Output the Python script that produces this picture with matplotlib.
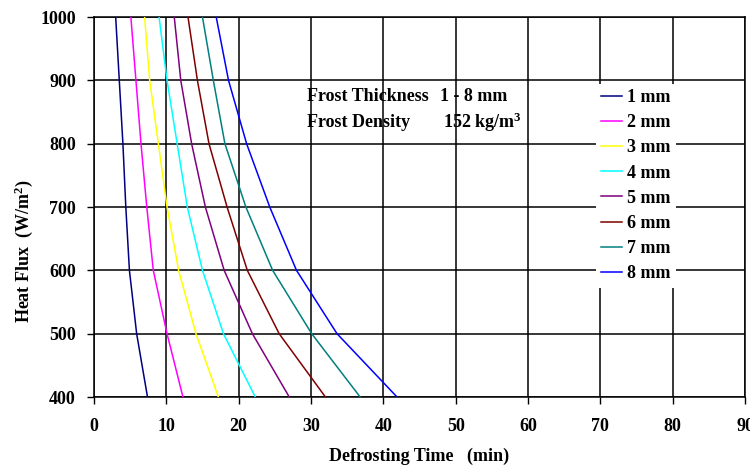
import numpy as np
import matplotlib.pyplot as plt

# heat flux levels (W/m2) and defrosting times (min)
flux = [1000, 900, 800, 700, 600, 500, 400]
t_1mm = [3.0, 3.5, 4.0, 4.4, 4.9, 5.9, 7.4]
t_2mm = [5.1, 5.8, 6.5, 7.3, 8.2, 10.1, 12.3]
t_3mm = [7.0, 7.7, 8.9, 10.1, 11.7, 14.1, 17.2]
t_4mm = [9.0, 10.1, 11.5, 12.9, 15.0, 17.9, 22.3]
t_5mm = [11.1, 12.0, 13.5, 15.4, 18.0, 21.9, 27.0]
t_6mm = [13.0, 14.3, 15.9, 18.4, 21.2, 25.6, 32.0]
t_7mm = [15.0, 16.5, 18.1, 21.0, 24.7, 30.1, 36.8]
t_8mm = [16.9, 18.6, 21.1, 24.3, 28.0, 33.6, 41.9]

series = [t_1mm, t_2mm, t_3mm, t_4mm, t_5mm, t_6mm, t_7mm, t_8mm]
labels = ['1 mm', '2 mm', '3 mm', '4 mm', '5 mm', '6 mm', '7 mm', '8 mm']
colors = ['#000080', '#FF00FF', '#FFFF00', '#00FFFF',
          '#800080', '#800000', '#008080', '#0000FF']

plt.rcParams['font.family'] = 'Liberation Serif'
plt.rcParams['font.weight'] = 'bold'
plt.rcParams['mathtext.default'] = 'regular'

fig = plt.figure(figsize=(7.5, 4.66), dpi=100)
ax = fig.add_axes([0.1253, 0.148, 0.868, 0.8155])

for t, lab, c in zip(series, labels, colors):
    ax.plot(t, flux, color=c, lw=1.1, label=lab, zorder=3)

ax.set_xlim(0, 90)
ax.set_ylim(400, 1000)
ax.set_xticks(np.arange(0, 91, 10))
ax.set_yticks(np.arange(400, 1001, 100))
ax.grid(True, color='black', lw=1.1)
ax.tick_params(labelsize=13, length=5, width=1, direction='out')
ax.tick_params(axis='y', pad=8)
ax.tick_params(axis='x', pad=10)
for s in ax.spines.values():
    s.set_linewidth(1.1)

ax.set_xlabel('Defrosting Time   (min)', fontsize=13, fontweight='bold', labelpad=9)
ax.set_ylabel('Heat Flux  (W/m$^2$)', fontsize=13, fontweight='bold')
ax.yaxis.set_label_coords(-0.091, 0.384)

ax.text(29.5, 874, 'Frost Thickness', fontsize=13, fontweight='bold', va='center', zorder=4)
ax.text(47.9, 874, '1 - 8 mm', fontsize=13, fontweight='bold', va='center', zorder=4)
ax.text(29.5, 834, 'Frost Density', fontsize=13, fontweight='bold', va='center', zorder=4)
ax.text(48.3, 834, '152 kg/m$^3$', fontsize=13, fontweight='bold', va='center', zorder=4)

leg = ax.legend(loc='upper left', bbox_to_anchor=(0.757, 0.848), fontsize=13,
                frameon=True, fancybox=False, handlelength=1.15, labelspacing=0.45,
                borderpad=0.3, handletextpad=0.3, borderaxespad=0.5)
leg.get_frame().set_edgecolor('none')
leg.get_frame().set_facecolor('white')
leg.get_frame().set_alpha(1)
leg.set_zorder(5)

fig.savefig('out.png', dpi=100)
